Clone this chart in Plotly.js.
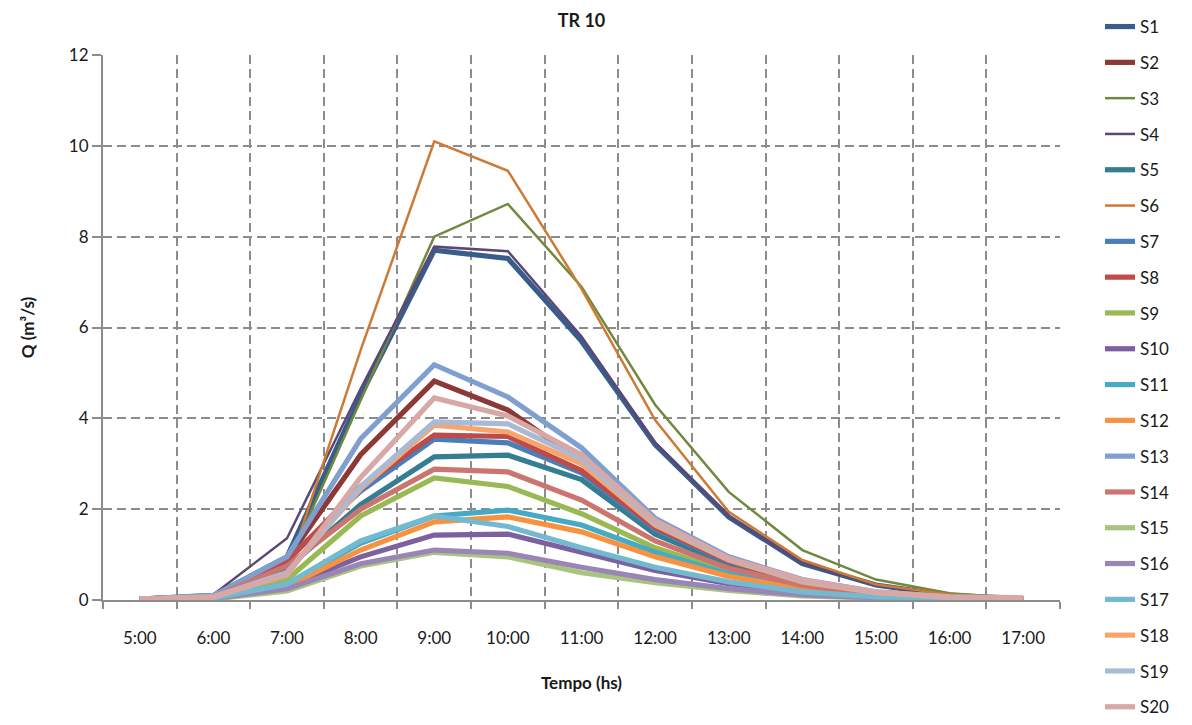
<!DOCTYPE html>
<html>
<head>
<meta charset="utf-8">
<script src="https://cdn.plot.ly/plotly-3.0.1.min.js"></script>
<style>
  html, body { margin: 0; padding: 0; background: #ffffff; }
  #chart { width: 1192px; height: 725px; }
</style>
</head>
<body>
<div id="chart"></div>
<script>
// Hourly time steps (category axis)
const horas = ["5:00", "6:00", "7:00", "8:00", "9:00", "10:00", "11:00", "12:00", "13:00", "14:00", "15:00", "16:00", "17:00"];

// Discharge Q (m³/s) per sub-basin, return period 10 years
const S1  = [0.02, 0.10, 0.95, 4.50, 7.70, 7.52, 5.70, 3.42, 1.83, 0.80, 0.33, 0.10, 0.03];
const S2  = [0.02, 0.08, 0.90, 3.20, 4.82, 4.18, 3.05, 1.70, 0.92, 0.42, 0.16, 0.06, 0.03];
const S3  = [0.01, 0.06, 0.75, 4.40, 8.00, 8.72, 6.90, 4.30, 2.38, 1.10, 0.45, 0.15, 0.03];
const S4  = [0.02, 0.12, 1.36, 4.65, 7.78, 7.68, 5.80, 3.47, 1.85, 0.82, 0.33, 0.10, 0.03];
const S5  = [0.01, 0.06, 0.70, 2.10, 3.15, 3.19, 2.65, 1.45, 0.78, 0.35, 0.13, 0.05, 0.02];
const S6  = [0.01, 0.05, 0.60, 5.50, 10.10, 9.45, 6.85, 3.96, 1.94, 0.88, 0.34, 0.12, 0.03];
const S7  = [0.02, 0.08, 0.90, 2.40, 3.54, 3.46, 2.80, 1.55, 0.84, 0.38, 0.15, 0.05, 0.02];
const S8  = [0.02, 0.08, 0.85, 2.50, 3.63, 3.60, 2.85, 1.60, 0.86, 0.39, 0.15, 0.05, 0.02];
const S9  = [0.01, 0.04, 0.45, 1.85, 2.69, 2.50, 1.90, 1.15, 0.62, 0.28, 0.10, 0.04, 0.01];
const S10 = [0.01, 0.03, 0.30, 0.95, 1.43, 1.45, 1.05, 0.65, 0.36, 0.16, 0.06, 0.02, 0.01];
const S11 = [0.01, 0.04, 0.35, 1.25, 1.85, 1.98, 1.65, 1.05, 0.58, 0.26, 0.10, 0.04, 0.01];
const S12 = [0.01, 0.03, 0.30, 1.10, 1.72, 1.83, 1.50, 0.95, 0.52, 0.24, 0.09, 0.03, 0.01];
const S13 = [0.02, 0.10, 0.95, 3.55, 5.18, 4.47, 3.35, 1.80, 0.95, 0.45, 0.18, 0.07, 0.03];
const S14 = [0.02, 0.07, 0.75, 2.00, 2.88, 2.82, 2.20, 1.30, 0.70, 0.32, 0.12, 0.05, 0.02];
const S15 = [0.01, 0.02, 0.20, 0.75, 1.05, 0.95, 0.60, 0.38, 0.21, 0.09, 0.04, 0.01, 0.01];
const S16 = [0.01, 0.03, 0.25, 0.80, 1.10, 1.03, 0.72, 0.45, 0.25, 0.11, 0.05, 0.02, 0.01];
const S17 = [0.01, 0.04, 0.35, 1.30, 1.85, 1.62, 1.15, 0.72, 0.40, 0.18, 0.07, 0.03, 0.01];
const S18 = [0.02, 0.06, 0.60, 2.45, 3.85, 3.70, 3.00, 1.65, 0.88, 0.40, 0.16, 0.06, 0.03];
const S19 = [0.02, 0.07, 0.60, 2.50, 3.92, 3.88, 3.10, 1.70, 0.90, 0.42, 0.17, 0.06, 0.03];
const S20 = [0.02, 0.07, 0.55, 2.70, 4.45, 4.05, 3.20, 1.75, 0.92, 0.44, 0.18, 0.07, 0.05];

const nomes = ["S1","S2","S3","S4","S5","S6","S7","S8","S9","S10",
               "S11","S12","S13","S14","S15","S16","S17","S18","S19","S20"];
const valores = [S1,S2,S3,S4,S5,S6,S7,S8,S9,S10,S11,S12,S13,S14,S15,S16,S17,S18,S19,S20];
const cores = ["#385D8A","#8C3836","#71893F","#5C4776","#357D91","#CC7A35",
               "#4A7EBB","#BE4B48","#98B954","#7D60A0","#46AAC5","#F69240",
               "#7E9FCF","#CC7470","#A9C47F","#9A86B6","#73BAD0","#F7A56C",
               "#A9BAD7","#D7A8A6"];
// S3, S4 and S6 are drawn with a thin stroke
const finas = ["S3","S4","S6"];

const fonte = "Lato, 'Open Sans', 'DejaVu Sans', sans-serif";
const texto = "#1a1a1a";
const cinza = "#8c8c8c";

const traces = nomes.map((n, i) => ({
  type: "scatter",
  mode: "lines",
  name: n,
  legendgroup: n,
  x: horas,
  y: valores[i],
  line: { color: cores[i], width: finas.includes(n) ? 2.5 : 5.2 },
  hoverinfo: "x+y+name"
}));

const layout = {
  width: 1192,
  height: 725,
  paper_bgcolor: "#ffffff",
  plot_bgcolor: "#ffffff",
  margin: { l: 103, r: 132, t: 55, b: 125 },
  font: { family: fonte, size: 17, color: texto },
  title: {
    text: "<b>TR 10</b>",
    font: { family: fonte, size: 18, color: texto },
    x: 0.5, xref: "paper", xanchor: "center",
    y: 0.972, yref: "container", yanchor: "middle"
  },
  xaxis: {
    type: "category",
    range: [-0.5, 12.5],
    tickson: "boundaries",
    ticks: "outside",
    ticklen: 7,
    tickcolor: cinza,
    tickwidth: 2,
    ticklabelstandoff: 22,
    showline: true,
    linecolor: cinza,
    linewidth: 2,
    showgrid: true,
    gridcolor: cinza,
    gridwidth: 2,
    griddash: "9px,5px",
    tickfont: { family: fonte, size: 17, color: texto },
    title: { text: "<b>Tempo (hs)</b>", font: { family: fonte, size: 17, color: texto }, standoff: 30 },
    fixedrange: true
  },
  yaxis: {
    range: [0, 12],
    dtick: 2,
    ticks: "outside",
    ticklen: 9,
    tickcolor: cinza,
    tickwidth: 2,
    showline: true,
    linecolor: cinza,
    linewidth: 2,
    showgrid: true,
    gridcolor: cinza,
    gridwidth: 2,
    griddash: "9px,5px",
    zeroline: false,
    tickfont: { family: fonte, size: 17, color: texto },
    title: { text: "<b>Q (m³/s)</b>", font: { family: fonte, size: 17, color: texto }, standoff: 30 },
    fixedrange: true
  },
  legend: {
    x: 1.0418, xanchor: "left",
    y: 1.067, yanchor: "top",
    font: { family: fonte, size: 17, color: texto },
    tracegroupgap: 10.7,
    itemwidth: 30,
    maxheight: 725,
    bgcolor: "rgba(255,255,255,0)"
  },
  showlegend: true
};

Plotly.newPlot("chart", traces, layout, { displayModeBar: false, staticPlot: true });
</script>
</body>
</html>
